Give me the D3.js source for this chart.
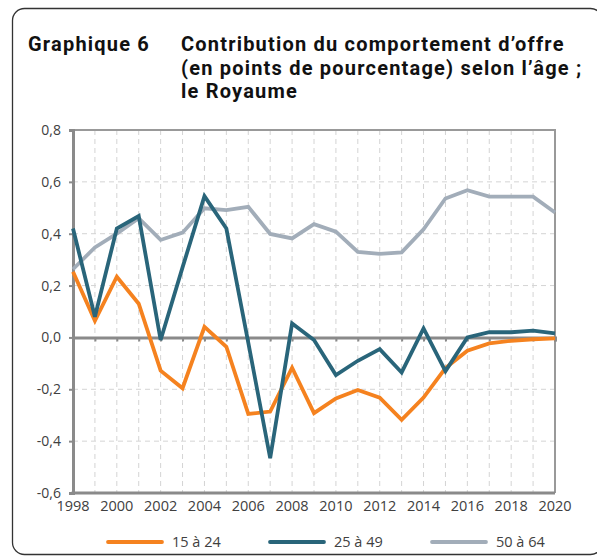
<!DOCTYPE html>
<html>
<head>
<meta charset="utf-8">
<script src="https://cdn.jsdelivr.net/npm/d3@7"></script>
<style>
  body { margin: 0; background: #fff; }
  text { font-family: "Open Sans", sans-serif; }
</style>
</head>
<body>
<svg width="597" height="556"></svg>
<script>
// data
const years = d3.range(1998, 2021);
const jeunes = [0.253, 0.064, 0.234, 0.13, -0.128, -0.196, 0.041, -0.036, -0.295, -0.286, -0.117,
    -0.292, -0.235, -0.203, -0.232, -0.318, -0.232, -0.118, -0.051, -0.023, -0.013, -0.007, -0.004];
const adultes = [0.42, 0.08, 0.42, 0.468, -0.01, 0.27, 0.545, 0.42, -0.02, -0.466, 0.054,
    -0.01, -0.145, -0.09, -0.045, -0.135, 0.035, -0.13, 0.0, 0.02, 0.02, 0.026, 0.016];
const seniors = [0.263, 0.347, 0.4, 0.46, 0.376, 0.404, 0.498, 0.491, 0.504, 0.399, 0.382,
    0.437, 0.408, 0.33, 0.322, 0.328, 0.417, 0.536, 0.568, 0.543, 0.543, 0.543, 0.482];
const seriesNames = ["15 à 24", "25 à 49", "50 à 64"];
const yTicks = [-0.6, -0.4, -0.2, 0, 0.2, 0.4, 0.6, 0.8];
const xLabels = d3.range(1998, 2021, 2);
const titleLines = ["Contribution du comportement d’offre", "(en points de pourcentage) selon l’âge ;", "le Royaume"];

const colors = ["#f5821f", "#29657a", "#a2adb9"];
const gridColor = "#d4d4d4";
const axisColor = "#8a8a8a";
const textColor = "#404040";

const svg = d3.select("svg");

let xScale = d3.scaleLinear().domain([1998, 2020]).range([73, 555]);
let yScale = d3.scaleLinear().domain([-0.6, 0.8]).range([493, 130]);

const fr = d3.formatLocale({decimal: ",", thousands: " ", grouping: [3], currency: ["", "€"], minus: "-"});
const fmt = fr.format(".1f");

// frame of the box
svg.append("rect")
    .attr("x", 12.5).attr("y", 8.5)
    .attr("width", 590).attr("height", 546)
    .attr("rx", 12)
    .attr("fill", "none")
    .attr("stroke", "#333").attr("stroke-width", 1.3);

// title (Roboto keeps the line boxes from overlapping)
const title = svg.append("g")
    .attr("font-weight", "bold")
    .attr("font-size", 20)
    .attr("letter-spacing", 1.2)
    .attr("fill", "#111");
title.append("text")
    .attr("x", 28).attr("y", 51)
    .style("font-family", "Roboto")
    .text("Graphique 6");
title.selectAll("text.line")
    .data(titleLines)
    .enter().append("text")
    .attr("class", "line")
    .style("font-family", "Roboto")
    .attr("x", 181)
    .attr("y", (d, i) => 51 + i * 23.5)
    .text(d => d);

// grid
svg.append("g")
    .selectAll("line")
    .data(years.slice(1, -1))
    .enter().append("line")
    .attr("x1", d => xScale(d)).attr("x2", d => xScale(d))
    .attr("y1", yScale(0.8)).attr("y2", yScale(-0.6))
    .attr("stroke", gridColor).attr("stroke-width", 1).attr("stroke-dasharray", "5,4");

svg.append("g")
    .selectAll("line")
    .data(yTicks.filter(v => v != 0 && v != 0.8 && v != -0.6))
    .enter().append("line")
    .attr("x1", xScale(1998)).attr("x2", xScale(2020))
    .attr("y1", d => yScale(d)).attr("y2", d => yScale(d))
    .attr("stroke", gridColor).attr("stroke-width", 1).attr("stroke-dasharray", "5,4");

// top and right border of plot
svg.append("path")
    .attr("d", `M${xScale(1998)},${yScale(0.8)}H${xScale(2020)}V${yScale(-0.6)}`)
    .attr("fill", "none").attr("stroke", "#999").attr("stroke-width", 2);

// y axis
let yAxis = d3.axisLeft(yScale)
    .tickValues(yTicks)
    .tickSize(4)
    .tickPadding(8)
    .tickFormat(fmt);
let gy = svg.append("g")
    .attr("transform", `translate(${xScale(1998)},0)`)
    .call(yAxis);
gy.select(".domain").attr("stroke", axisColor).attr("stroke-width", 3);
gy.selectAll(".tick line").attr("stroke", axisColor).attr("stroke-width", 2);
gy.selectAll("text").attr("font-size", 14).attr("fill", textColor);

// bottom line
svg.append("line")
    .attr("x1", xScale(1998) - 1.5).attr("x2", xScale(2020))
    .attr("y1", yScale(-0.6)).attr("y2", yScale(-0.6))
    .attr("stroke", axisColor).attr("stroke-width", 3);

// x axis sitting on zero
let xAxis = d3.axisBottom(xScale)
    .tickValues(years)
    .tickSize(4)
    .tickFormat("");
let gx = svg.append("g")
    .attr("transform", `translate(0,${yScale(0)})`)
    .call(xAxis);
gx.select(".domain").attr("stroke", axisColor).attr("stroke-width", 3);
gx.selectAll(".tick line").attr("stroke", axisColor).attr("stroke-width", 2);

// year labels at the bottom
svg.append("g")
    .selectAll("text")
    .data(xLabels)
    .enter().append("text")
    .attr("x", d => xScale(d))
    .attr("y", 511)
    .attr("text-anchor", "middle")
    .attr("font-size", 14.5)
    .attr("fill", textColor)
    .text(d => d);

// series
const allSeries = [jeunes, adultes, seniors];
const line = d3.line()
    .x((d, i) => xScale(years[i]))
    .y(d => yScale(d));

// draw grey first, then orange, then teal on top
[2, 0, 1].forEach(k => {
    svg.append("path")
        .datum(allSeries[k])
        .attr("d", line)
        .attr("fill", "none")
        .attr("stroke", colors[k])
        .attr("stroke-width", 3.8)
        .attr("stroke-linejoin", "miter");
});

// legend
const legend = svg.append("g");
seriesNames.forEach((name, i) => {
    let lx = 108 + i * 162;
    legend.append("line")
        .attr("x1", lx).attr("x2", lx + 54)
        .attr("y1", 542).attr("y2", 542)
        .attr("stroke", colors[i]).attr("stroke-width", 3.8)
        .attr("stroke-linecap", "round");
    legend.append("text")
        .attr("x", lx + 64).attr("y", 547)
        .attr("font-size", 14.5)
        .attr("fill", textColor)
        .text(name);
});
</script>
</body>
</html>
